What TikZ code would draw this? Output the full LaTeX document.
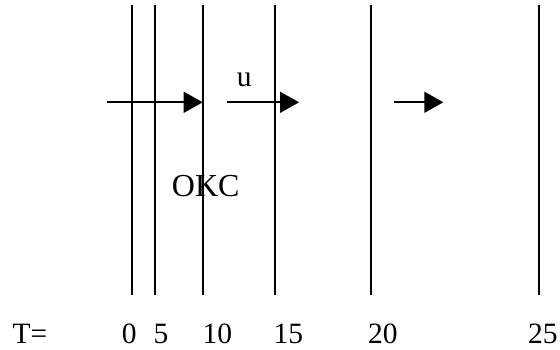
\documentclass[tikz,border=0pt]{standalone}
\usepackage{fontspec}
\setmainfont{Liberation Serif}
\usetikzlibrary{arrows.meta}
\begin{document}
\begin{tikzpicture}[x=1pt,y=-1pt,
  tline/.style={line width=1.6pt},
  flow/.style={line width=1.6pt,-{Triangle[length=19pt,width=21pt]}},
  lbl/.style={anchor=base west,inner sep=0pt,font=\fontsize{29.5}{34}\selectfont}]
\useasboundingbox (0,0) rectangle (560,350);
% vertical time lines
\foreach \n/\x in {a/131.7,b/155,c/202.7,d/275,e/370.7,f/539}{
  \coordinate (\n top) at (\x,5);
  \coordinate (\n bot) at (\x,295);
  \draw[tline] (\n top) -- (\n bot);
}
% arrows
\coordinate (s1) at (106.7,102.3); \coordinate (e1) at (202.7,102.3);
\coordinate (s2) at (226.7,102.3); \coordinate (e2) at (299,102.3);
\coordinate (s3) at (394.3,102.3); \coordinate (e3) at (443.3,102.3);
\draw[flow] (s1) -- (e1);
\draw[flow] (s2) -- (e2);
\draw[flow] (s3) -- (e3);
% labels
\node[lbl] (u) at (236.7,86.7) {u};
\node[lbl,font=\fontsize{32}{36}\selectfont] (okc) at (171.7,196.7) {OKC};
\node[lbl] (T) at (12.5,343) {T=};
\node[lbl] (t0) at (121.7,343) {0};
\node[lbl] (t5) at (153.3,343) {5};
\node[lbl] (t10) at (202.5,343) {10};
\node[lbl] (t15) at (273.5,343) {15};
\node[lbl] (t20) at (368,343) {20};
\node[lbl] (t25) at (528,343) {25};
\end{tikzpicture}
\end{document}
